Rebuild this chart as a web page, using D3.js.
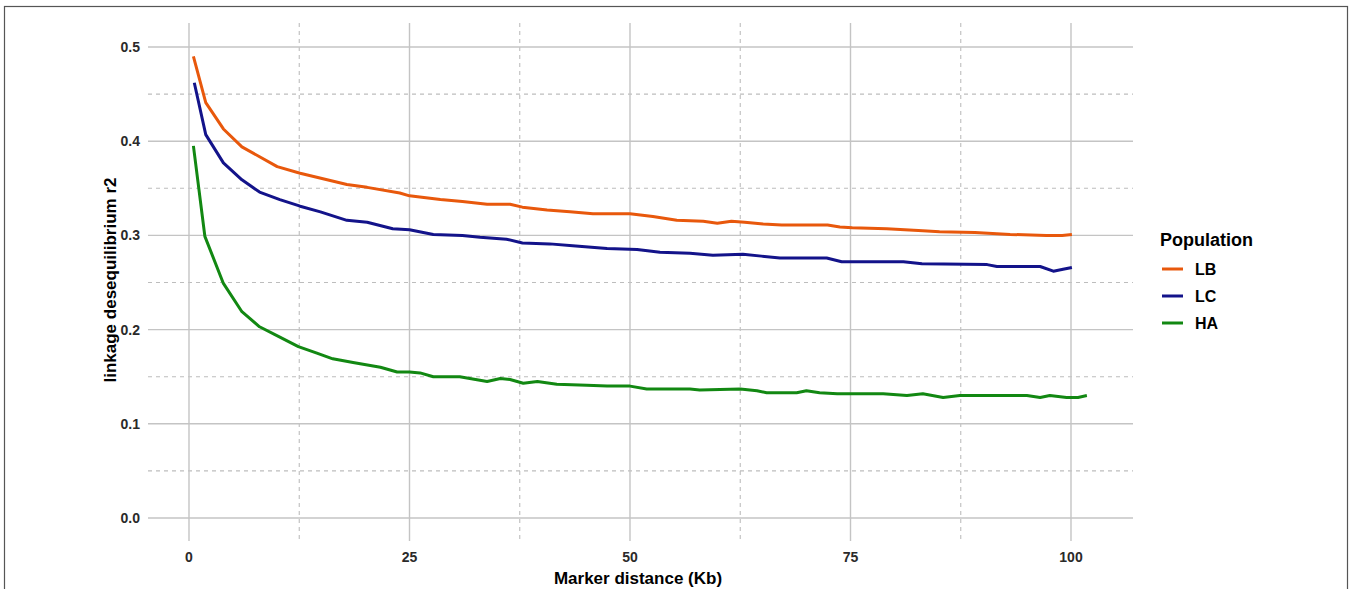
<!DOCTYPE html>
<html><head><meta charset="utf-8">
<script src="https://cdn.jsdelivr.net/npm/d3@7"></script>
<style>body{margin:0;background:#fff;}svg{display:block;font-family:Arial,"Liberation Sans",sans-serif;}</style>
</head><body>
<svg id="c" width="1352" height="589"></svg>
<script>
const seriesNames = ["LB", "LC", "HA"];
const seriesColors = ["#e8580c", "#13138a", "#128812"];
const xTicks = [0, 25, 50, 75, 100];
const xMinor = [12.5, 37.5, 62.5, 87.5];
const yTicks = [0.0, 0.1, 0.2, 0.3, 0.4, 0.5];
const yMinor = [0.05, 0.15, 0.25, 0.35, 0.45];

const lbX = [0.5,1.9,3.9,6.0,10,12.6,17.9,20.2,23.9,25,28.5,31,33.8,36.4,37.8,40.6,43.2,45.8,50,52.6,55.3,58.3,59.9,61.5,63,65.1,67.2,72.4,73.8,75.2,79.1,83.2,85.1,89.1,93.1,97.2,99,100.1];
const lbY = [0.490,0.441,0.413,0.394,0.373,0.366,0.354,0.351,0.345,0.342,0.338,0.336,0.333,0.333,0.330,0.327,0.325,0.323,0.323,0.320,0.316,0.315,0.313,0.315,0.314,0.312,0.311,0.311,0.309,0.308,0.307,0.305,0.304,0.303,0.301,0.300,0.300,0.301];

const lcX = [0.6,1.9,3.9,6.0,8.0,10.3,12.6,14.9,17.9,20.2,23.1,25,27.7,31,33,36,37.8,40.9,43.5,47.4,50.8,53.4,56.8,59.4,62.8,64.9,67,72.3,74,81,83.1,90.5,91.6,96.5,98,99.1,100.1];
const lcY = [0.462,0.407,0.377,0.359,0.346,0.338,0.331,0.325,0.316,0.314,0.307,0.306,0.301,0.300,0.298,0.296,0.292,0.291,0.289,0.286,0.285,0.282,0.281,0.279,0.280,0.278,0.276,0.276,0.272,0.272,0.270,0.269,0.267,0.267,0.262,0.264,0.266];

const haX = [0.5,1.8,3.9,6.0,8.0,10.3,12.4,14.5,16.3,18.6,21.7,23.6,25,26.2,27.7,30.7,33.8,35.3,36.4,37.9,39.5,41.7,45.1,47.4,50,51.9,56.8,57.9,62.5,64.4,65.5,68.9,70,71.5,73.5,78.7,81.4,83.2,85.5,87.4,95,96.5,97.6,99.5,100.8,101.8];
const haY = [0.395,0.299,0.249,0.219,0.203,0.192,0.182,0.175,0.169,0.165,0.160,0.155,0.155,0.154,0.150,0.150,0.145,0.148,0.147,0.143,0.145,0.142,0.141,0.140,0.140,0.137,0.137,0.136,0.137,0.135,0.133,0.133,0.135,0.133,0.132,0.132,0.130,0.132,0.128,0.130,0.130,0.128,0.130,0.128,0.128,0.130];

const series = [
  {name: seriesNames[0], color: seriesColors[0], pts: lbX.map((x,i)=>[x,lbY[i]])},
  {name: seriesNames[1], color: seriesColors[1], pts: lcX.map((x,i)=>[x,lcY[i]])},
  {name: seriesNames[2], color: seriesColors[2], pts: haX.map((x,i)=>[x,haY[i]])}
];

const svg = d3.select("#c");
svg.append("rect").attr("x",4.5).attr("y",6.5).attr("width",1343).attr("height",600)
  .attr("fill","none").attr("stroke","#555").attr("stroke-width",1.2);

const panel = {left:148, right:1133, top:23, bottom:541};
const x = d3.scaleLinear().domain([0,100]).range([189,1071]);
const y = d3.scaleLinear().domain([0,0.5]).range([518,47]);

const g = svg.append("g");
g.selectAll(".ym").data(yMinor).join("line")
  .attr("x1",panel.left).attr("x2",panel.right).attr("y1",d=>y(d)).attr("y2",d=>y(d))
  .attr("stroke","#bdbdbd").attr("stroke-width",1.1).attr("stroke-dasharray","4,4");
g.selectAll(".xm").data(xMinor).join("line")
  .attr("y1",panel.top).attr("y2",panel.bottom).attr("x1",d=>x(d)).attr("x2",d=>x(d))
  .attr("stroke","#bdbdbd").attr("stroke-width",1.1).attr("stroke-dasharray","4,4");
g.selectAll(".yM").data(yTicks).join("line")
  .attr("x1",panel.left).attr("x2",panel.right).attr("y1",d=>y(d)).attr("y2",d=>y(d))
  .attr("stroke","#c4c4c4").attr("stroke-width",1.4);
g.selectAll(".xM").data(xTicks).join("line")
  .attr("y1",panel.top).attr("y2",panel.bottom).attr("x1",d=>x(d)).attr("x2",d=>x(d))
  .attr("stroke","#c4c4c4").attr("stroke-width",1.4);

g.selectAll(".yl").data(yTicks).join("text")
  .attr("x",140).attr("y",d=>y(d)).attr("dy","0.35em").attr("text-anchor","end")
  .attr("font-size",14).attr("font-weight","bold").attr("fill","#2a2a2a")
  .text(d=>d3.format(".1f")(d));
g.selectAll(".xl").data(xTicks).join("text")
  .attr("x",d=>x(d)).attr("y",557).attr("dy","0.35em").attr("text-anchor","middle")
  .attr("font-size",14).attr("font-weight","bold").attr("fill","#2a2a2a")
  .text(d=>d);

svg.append("text").attr("x",638).attr("y",578).attr("dy","0.35em").attr("text-anchor","middle")
  .attr("font-size",17).attr("font-weight","bold").attr("fill","#000").text("Marker distance (Kb)");
svg.append("text").attr("transform","translate(110,280) rotate(-90)").attr("dy","0.35em")
  .attr("text-anchor","middle").attr("font-size",17).attr("font-weight","bold").attr("fill","#000")
  .text("linkage desequilibrium r2");

const line = d3.line().x(d=>x(d[0])).y(d=>y(d[1]));
svg.selectAll(".s").data(series).join("path")
  .attr("d",d=>line(d.pts)).attr("fill","none").attr("stroke",d=>d.color)
  .attr("stroke-width",3).attr("stroke-linejoin","round");

const lg = svg.append("g");
lg.append("text").attr("x",1160).attr("y",240).attr("dy","0.35em")
  .attr("font-size",18).attr("font-weight","bold").attr("fill","#000").text("Population");
const li = lg.selectAll(".li").data(series).join("g")
  .attr("transform",(d,i)=>`translate(0,${269+i*27})`);
li.append("line").attr("x1",1162).attr("x2",1183).attr("y1",0).attr("y2",0)
  .attr("stroke",d=>d.color).attr("stroke-width",3);
li.append("text").attr("x",1195).attr("y",0).attr("dy","0.35em")
  .attr("font-size",16).attr("font-weight","bold").attr("fill","#000").text(d=>d.name);
</script>
</body></html>
